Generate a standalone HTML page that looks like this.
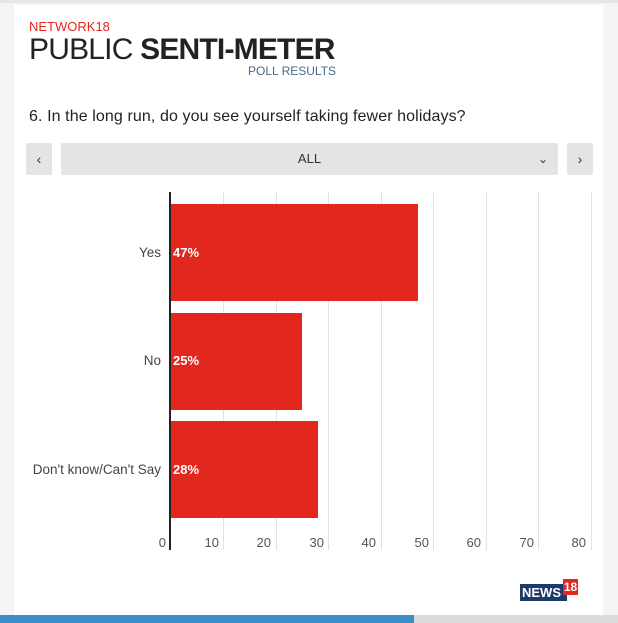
<!DOCTYPE html>
<html><head><style>
body{margin:0;width:618px;height:623px;background:#f4f4f4;position:relative;overflow:hidden;font-family:"Liberation Sans",sans-serif}
.card{position:absolute;left:14px;top:5px;width:589px;height:610px;background:#fff}
.a{position:absolute;white-space:nowrap}
.grid{position:absolute;top:192px;height:358px;width:1px;background:#e2e2e2}
.bar{position:absolute;left:171px;background:#e2271e;height:97px}
.pct{position:absolute;left:173px;color:#fff;font-weight:bold;font-size:13px}
.lab{position:absolute;right:457px;font-size:13.5px;color:#444}
.tk{position:absolute;top:535px;font-size:13px;color:#555;text-align:right;width:30px}
.btn{position:absolute;top:143px;height:32px;background:#e4e4e4;border-radius:2px;color:#333;font-size:14px;text-align:center;line-height:32px}
</style></head><body>
<div style="position:absolute;left:0;top:0;width:618px;height:3px;background:#e6e6e6"></div>
<div class="card"></div>
<div class="a" style="left:29px;top:19px;color:#e2271e;font-size:13px">NETWORK18</div>
<div class="a" style="left:29px;top:33px;font-size:30px;color:#222;letter-spacing:-0.8px">PUBLIC <b>SENTI-METER</b></div>
<div class="a" style="left:248px;top:64px;font-size:12px;color:#4a6a8a">POLL RESULTS</div>
<div class="a" style="left:29px;top:108px;font-size:16px;color:#222;letter-spacing:0.1px">6. In the long run, do you see yourself taking fewer holidays?</div>
<div class="btn" style="left:26px;width:26px">‹</div>
<div class="btn" style="left:61px;width:497px;font-size:13px">ALL<span style="position:absolute;right:10px;font-size:12px">⌄</span></div>
<div class="btn" style="left:567px;width:26px">›</div>
<div class="grid" style="left:223px"></div><div class="grid" style="left:276px"></div><div class="grid" style="left:328px"></div><div class="grid" style="left:381px"></div><div class="grid" style="left:433px"></div><div class="grid" style="left:486px"></div><div class="grid" style="left:538px"></div><div class="grid" style="left:591px"></div>
<div class="bar" style="top:204px;width:247px"></div>
<div class="bar" style="top:313px;width:131px"></div>
<div class="bar" style="top:421px;width:147px"></div>
<div style="position:absolute;left:169px;top:192px;width:2px;height:358px;background:#222"></div>
<div class="pct" style="top:245px">47%</div>
<div class="pct" style="top:353px">25%</div>
<div class="pct" style="top:462px">28%</div>
<div class="lab" style="top:245px">Yes</div>
<div class="lab" style="top:353px">No</div>
<div class="lab" style="top:462px">Don't know/Can't Say</div>
<div class="tk" style="left:136px">0</div>
<div class="tk" style="left:189px">10</div>
<div class="tk" style="left:241px">20</div>
<div class="tk" style="left:294px">30</div>
<div class="tk" style="left:346px">40</div>
<div class="tk" style="left:399px">50</div>
<div class="tk" style="left:451px">60</div>
<div class="tk" style="left:504px">70</div>
<div class="tk" style="left:556px">80</div>
<div class="a" style="left:520px;top:584px;width:45px;height:17px;background:#1c3a6b;color:#fff;font-weight:bold;font-size:13px;line-height:17px;padding-left:2px">NEWS</div>
<div class="a" style="left:563px;top:579px;width:15px;height:16px;background:#e2271e;color:#fff;font-weight:bold;font-size:12px;line-height:16px;text-align:center">18</div>
<div style="position:absolute;left:0;top:615px;width:618px;height:8px;background:#dcdcdc"></div>
<div style="position:absolute;left:0;top:615px;width:414px;height:8px;background:#3a8fc8"></div>
</body></html>
